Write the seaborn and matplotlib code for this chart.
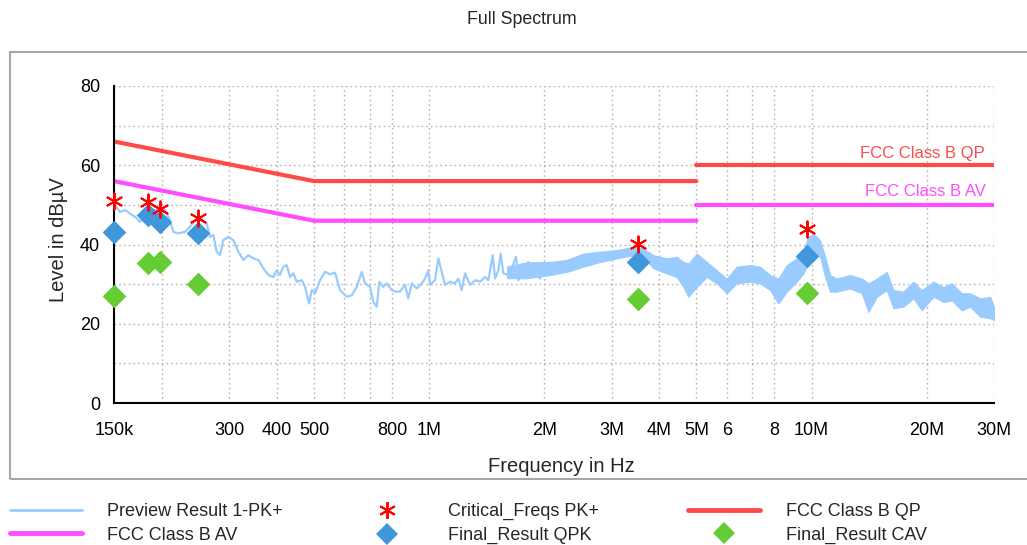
import numpy as np
import pandas as pd
import matplotlib
matplotlib.use("Agg")
import matplotlib.pyplot as plt
from matplotlib.lines import Line2D
from matplotlib.patches import Rectangle
import seaborn as sns

# ---------------- data ----------------
# Preview trace (thin part), frequency in MHz, level in dBuV
pk_freq = [0.15, 0.1555, 0.1603, 0.1652, 0.1702, 0.1754, 0.1815, 0.1882, 0.2039, 0.2102,
           0.2144, 0.2210, 0.2300, 0.2371, 0.2443, 0.2544, 0.2622, 0.2674, 0.2728, 0.2784,
           0.2840, 0.2897, 0.2986, 0.3077, 0.3171, 0.3268, 0.3368, 0.3471, 0.3577, 0.3686,
           0.3799, 0.3915, 0.3996, 0.4076, 0.4158, 0.4244, 0.4329, 0.4416, 0.4508, 0.4646,
           0.4739, 0.4854, 0.4933, 0.5032, 0.5186, 0.5344, 0.5507, 0.5676, 0.5849, 0.6090,
           0.6276, 0.6468, 0.6665, 0.6799, 0.7007, 0.7148, 0.7296, 0.7411, 0.7591, 0.7748,
           0.7985, 0.8145, 0.8394, 0.8651, 0.8825, 0.9008, 0.9283, 0.9566, 0.9758, 0.9954,
           1.0057, 1.0364, 1.0572, 1.0791, 1.1008, 1.1344, 1.1691, 1.1926, 1.2172, 1.2417,
           1.2797, 1.3188, 1.3591, 1.4007, 1.4288, 1.4671, 1.4874, 1.5172, 1.5393, 1.5636,
           1.6115, 1.6447, 1.6879, 1.7115, 1.7639, 1.8178, 1.8555, 1.9122, 1.9506, 2.0101,
           2.0715, 2.1131, 2.1778]
pk_level = [50.3, 48.2, 48.7, 47.8, 47.0, 45.7, 47.5, 48.7, 48.7, 46.1,
            43.2, 42.8, 43.2, 44.5, 46.1, 46.6, 45.3, 41.9, 42.4, 38.2,
            37.3, 41.1, 41.9, 41.1, 38.2, 36.1, 37.3, 36.5, 36.1, 34.0,
            32.3, 31.8, 33.5, 32.3, 34.4, 34.8, 31.8, 32.7, 30.6, 31.0,
            29.3, 25.1, 28.5, 27.7, 31.0, 33.1, 32.5, 32.9, 28.5, 26.8,
            27.2, 29.3, 33.1, 30.2, 29.3, 25.5, 24.3, 30.6, 29.3, 30.2,
            28.5, 28.1, 28.1, 29.8, 26.4, 30.2, 28.9, 30.2, 31.4, 33.5,
            29.8, 31.0, 36.5, 33.1, 29.8, 30.6, 30.2, 31.4, 28.5, 32.7,
            29.8, 31.0, 30.6, 31.8, 31.0, 37.3, 31.4, 33.5, 37.7, 32.7,
            32.3, 34.0, 36.9, 31.0, 32.7, 35.6, 31.8, 34.0, 31.4, 34.4,
            35.2, 33.1, 35.6]

# Preview trace (dense band part): envelope low / high
band_freq = [1.60, 1.80, 2.0715, 2.2907, 2.5313, 2.7995, 3.0954, 3.4205, 3.6329, 3.8582,
             4.1828, 4.4426, 4.6226, 4.7639, 5.0111, 5.3217, 5.6519, 6.0026, 6.3747, 6.9069,
             7.3354, 7.7906, 8.1901, 8.6153, 9.1500, 9.5208, 9.8118, 10.1115, 10.528, 10.850,
             11.181, 11.641, 12.614, 13.535, 14.084, 14.812, 15.732, 16.371, 17.387, 18.465,
             19.424, 20.831, 22.122, 23.270, 24.713, 25.980, 27.593, 29.304, 30.0]
band_low = [31.5, 31.5, 32.3, 33.1, 34.4, 35.6, 36.5, 37.3, 36.9, 34.0,
            32.7, 31.8, 29.3, 26.8, 29.3, 31.8, 30.2, 27.7, 30.2, 30.6,
            30.2, 28.5, 25.1, 28.1, 30.6, 32.7, 35.2, 38.6, 36.9, 31.8,
            28.1, 28.1, 28.9, 27.7, 23.0, 26.8, 28.5, 23.9, 24.3, 26.4,
            23.4, 26.8, 25.5, 25.9, 23.4, 24.3, 21.8, 21.4, 20.9]
band_high = [34.5, 35.5, 35.6, 36.1, 37.7, 38.2, 38.6, 39.4, 39.0, 37.3,
             36.5, 36.9, 35.6, 35.2, 37.7, 35.6, 33.5, 31.4, 34.4, 34.8,
             34.4, 32.3, 31.4, 34.8, 36.5, 38.6, 41.9, 42.8, 41.1, 36.9,
             32.3, 31.4, 32.3, 31.4, 30.2, 31.4, 33.1, 28.5, 28.1, 30.6,
             28.5, 30.6, 29.3, 30.2, 27.7, 27.7, 26.4, 26.8, 24.3]

# Limit lines (segments)
qp_seg1_freq = [0.15, 0.5, 5.0]
qp_seg1_level = [66, 56, 56]
qp_seg2_freq = [5.0, 30.0]
qp_seg2_level = [60, 60]
av_seg1_freq = [0.15, 0.5, 5.0]
av_seg1_level = [56, 46, 46]
av_seg2_freq = [5.0, 30.0]
av_seg2_level = [50, 50]

# Measured points
crit_freq = [0.15, 0.184, 0.198, 0.249, 3.52, 9.74]
crit_level = [50.9, 50.7, 48.9, 46.6, 40.1, 43.9]
qpk_freq = [0.15, 0.184, 0.198, 0.249, 3.52, 9.74]
qpk_level = [43.2, 47.4, 45.7, 42.9, 35.5, 37.1]
cav_freq = [0.15, 0.184, 0.198, 0.249, 3.52, 9.74]
cav_level = [27.0, 35.4, 35.6, 30.0, 26.2, 27.7]

xtick_vals = [0.15, 0.2, 0.3, 0.4, 0.5, 0.6, 0.7, 0.8, 1, 2, 3, 4, 5, 6, 7, 8, 10, 20, 30]
xtick_labels = ['150k', '', '300', '400', '500', '', '', '800', '1M', '2M', '3M', '4M',
                '5M', '6', '', '8', '10M', '20M', '30M']
ytick_vals = [0, 10, 20, 30, 40, 50, 60, 70, 80]
ytick_labels = ['0', '', '20', '', '40', '', '60', '', '80']

# ---------------- style ----------------
sns.set_theme(style='white')
plt.rcParams['font.family'] = ['Liberation Sans', 'DejaVu Sans']

C_TRACE = '#99cbff'
C_QP = '#ff4a4a'
C_AV = '#ff4dff'
C_STAR = '#ff0000'
C_QPK = '#3f97dc'
C_CAV = '#66cc33'

W, H = 1027, 545
fig = plt.figure(figsize=(W / 100, H / 100), dpi=100)
ax = fig.add_axes([114 / W, 1 - 403 / H, (994 - 114) / W, (403 - 86) / H])

# trace
ax.fill_between(band_freq, band_low, band_high, color=C_TRACE, lw=0.8, zorder=2)
sns.lineplot(x=pk_freq, y=pk_level, ax=ax, color=C_TRACE, lw=1.6, sort=False,
             estimator=None, zorder=2)

# limits
for f, v, c in [(qp_seg1_freq, qp_seg1_level, C_QP), (qp_seg2_freq, qp_seg2_level, C_QP),
                (av_seg1_freq, av_seg1_level, C_AV), (av_seg2_freq, av_seg2_level, C_AV)]:
    sns.lineplot(x=f, y=v, ax=ax, color=c, lw=3, sort=False, estimator=None, zorder=3)

# points
sns.scatterplot(x=cav_freq, y=cav_level, ax=ax, marker='D', s=145, color=C_CAV,
                linewidth=0, zorder=5, clip_on=False)
sns.scatterplot(x=qpk_freq, y=qpk_level, ax=ax, marker='D', s=145, color=C_QPK,
                linewidth=0, zorder=5, clip_on=False)
ax.scatter(crit_freq, crit_level, marker=(6, 2, 0), s=135, color=C_STAR,
           linewidths=1.4, zorder=6, clip_on=False)

ax.set_xscale('log')
ax.set_xlim(0.15, 30)
ax.set_ylim(0, 80)
ax.set_xticks(xtick_vals)
ax.set_xticklabels(xtick_labels)
ax.xaxis.set_minor_locator(matplotlib.ticker.NullLocator())
ax.set_yticks(ytick_vals)
ax.set_yticklabels(ytick_labels)
ax.tick_params(axis='both', which='major', direction='inout', length=10, width=1.3,
               color='black', labelsize=13, labelcolor='black')
ax.tick_params(axis='x', pad=9)
ax.tick_params(axis='y', pad=5)
ax.grid(True, which='major', color='#b4b4b4', linestyle=(0, (1.2, 2.2)), linewidth=1.0)
ax.set_axisbelow(True)
for s in ['top', 'right']:
    ax.spines[s].set_visible(False)
for s in ['left', 'bottom']:
    ax.spines[s].set_color('black')
    ax.spines[s].set_linewidth(1.5)
    ax.spines[s].set_zorder(4)
ax.set_xlabel('')
ax.set_ylabel('')

# limit labels
ax.text(28.4, 63.0, 'FCC Class B QP', color=C_QP, fontsize=12, ha='right', va='center')
ax.text(28.6, 53.4, 'FCC Class B AV', color=C_AV, fontsize=12, ha='right', va='center')

# figure texts
fig.text(522 / W, 1 - 19 / H, 'Full Spectrum', ha='center', va='center', fontsize=12.8)
fig.text(561 / W, 1 - 466 / H, 'Frequency in Hz', ha='center', va='center', fontsize=14.5)
fig.text(59 / W, 1 - 240 / H, 'Level in dBµV', ha='center', va='center', fontsize=14.5,
         rotation=90)

# outer frame
fig.patches.append(Rectangle((10 / W, 1 - 479 / H), 1.05, (479 - 52) / H,
                             transform=fig.transFigure, fill=False,
                             edgecolor='#a8a8a8', lw=1.5))

# legend (three columns)
h_trace = Line2D([], [], color=C_TRACE, lw=2)
h_av = Line2D([], [], color=C_AV, lw=3.5)
h_qp = Line2D([], [], color=C_QP, lw=3.5)
h_star = Line2D([], [], color=C_STAR, marker=(6, 2, 0), markersize=12, mew=1.4, lw=0)
h_qpk = Line2D([], [], color=C_QPK, marker='D', markersize=11.5, mew=0, lw=0)
h_cav = Line2D([], [], color=C_CAV, marker='D', markersize=11.5, mew=0, lw=0)

cols = [
    (10, [h_trace, h_av], ['Preview Result 1-PK+', 'FCC Class B AV']),
    (351, [h_star, h_qpk], ['Critical_Freqs PK+', 'Final_Result QPK']),
    (688, [h_qp, h_cav], ['FCC Class B QP', 'Final_Result CAV']),
]
for x0, hs, ls in cols:
    fig.legend(hs, ls, loc='upper left', bbox_to_anchor=(x0 / W, 1 - 503 / H),
               frameon=False, borderpad=0, borderaxespad=0, handlelength=4,
               handletextpad=1.4, labelspacing=0.37, fontsize=13)

fig.savefig('out.png', dpi=100)
